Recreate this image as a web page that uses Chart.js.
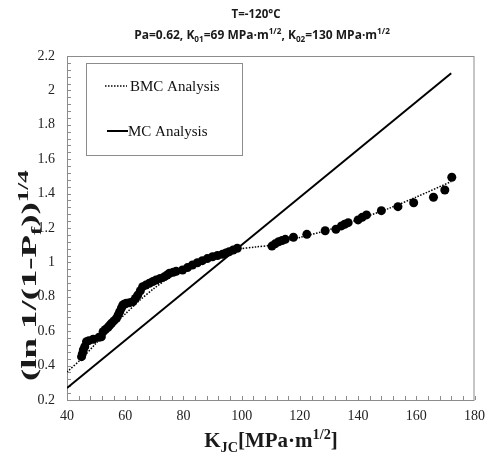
<!DOCTYPE html>
<html lang="en">
<head>
    <meta charset="UTF-8">
    <title>Master Curve vs BMC</title>
    <script src="https://cdn.jsdelivr.net/npm/chart.js"></script>
    <style>
        html, body { margin: 0; padding: 0; background: #fff; }
        #wrap { width: 493px; height: 456px; }
    </style>
</head>
<body>
    <div id="wrap"><canvas id="chart"></canvas></div>

    <script>
        // measured fracture toughness data
        const kjc = [45.0, 45.3, 45.6, 46.1, 46.7, 47.5, 49.0, 51.0, 51.8, 52.4, 53.2, 54.1, 54.7, 55.3, 56.1, 57.0,
            57.6, 58.1, 58.7, 59.2, 59.8, 60.4, 61.5, 62.6, 63.5, 64.3, 65.2, 66.0, 67.1, 68.3, 69.5, 70.6,
            72.0, 73.5, 74.4, 75.2, 76.5, 77.5, 79.7, 81.4, 83.1, 84.8, 86.5, 88.2, 90.0, 91.7, 93.4, 94.6,
            95.7, 97.1, 98.5, 110.4, 111.5, 112.7, 113.9, 115.0, 117.8, 122.4, 128.7, 132.4, 134.3, 135.4,
            136.6, 140.0, 141.4, 142.9, 148.0, 153.7, 159.1, 165.9, 169.8, 172.2];
        const prob = [0.452, 0.47, 0.491, 0.51, 0.539, 0.545, 0.553, 0.565, 0.568, 0.597, 0.61, 0.623, 0.635, 0.646, 0.66, 0.675,
            0.695, 0.713, 0.735, 0.752, 0.758, 0.762, 0.766, 0.771, 0.79, 0.81, 0.835, 0.859, 0.868, 0.879, 0.889, 0.898,
            0.907, 0.917, 0.927, 0.937, 0.943, 0.948, 0.956, 0.97, 0.985, 0.998, 1.01, 1.022, 1.033, 1.04, 1.047, 1.055,
            1.062, 1.072, 1.082, 1.095, 1.108, 1.12, 1.127, 1.134, 1.146, 1.163, 1.184, 1.193, 1.212, 1.222,
            1.231, 1.247, 1.262, 1.276, 1.301, 1.324, 1.347, 1.379, 1.421, 1.495];

        // BMC fitted curve (dotted)
        const bmcX = [40, 45, 50, 55, 60, 65, 70, 75, 80, 85, 90, 95, 98, 105, 110, 120, 130, 140, 150, 160, 172];
        const bmcY = [0.363, 0.44, 0.53, 0.62, 0.70, 0.78, 0.85, 0.91, 0.96, 1.0, 1.03, 1.055, 1.075, 1.09, 1.10, 1.145, 1.19, 1.25, 1.31, 1.38, 1.47];

        // MC straight line
        const mcX = [40, 172];
        const mcY = [0.27, 2.10];

        const xTicks = [40, 60, 80, 100, 120, 140, 160, 180];
        const yTicks = [0.2, 0.4, 0.6, 0.8, 1.0, 1.2, 1.4, 1.6, 1.8, 2.0, 2.2];

        const toXY = (xs, ys) => xs.map((x, i) => ({ x: x, y: ys[i] }));

        const SERIF = '"Liberation Serif", "Times New Roman", serif';
        const SANS = '"Open Sans", "Liberation Sans", sans-serif';

        // draw a run of text pieces with sub/superscripts
        function richWidth(ctx, parts, size, family, weight) {
            let w = 0;
            parts.forEach(p => {
                const s = p.s ? size * 0.68 : size;
                ctx.font = weight + ' ' + s + 'px ' + family;
                w += ctx.measureText(p.t).width;
            });
            return w;
        }
        function drawRich(ctx, parts, x, y, size, family, weight, align) {
            let cx = x;
            if (align === 'center') cx = x - richWidth(ctx, parts, size, family, weight) / 2;
            ctx.textBaseline = 'alphabetic';
            ctx.textAlign = 'left';
            parts.forEach(p => {
                const s = p.s ? size * 0.68 : size;
                ctx.font = weight + ' ' + s + 'px ' + family;
                let dy = 0;
                if (p.s === 'sub') dy = size * 0.22;
                if (p.s === 'sup') dy = -size * 0.38;
                ctx.fillText(p.t, cx, y + dy);
                cx += ctx.measureText(p.t).width;
            });
        }

        const decor = {
            id: 'decor',
            beforeDatasetsDraw(chart) {
                const { ctx, chartArea: a, scales: { x, y } } = chart;
                ctx.save();
                ctx.strokeStyle = '#8c8c8c';
                ctx.lineWidth = 1;
                ctx.strokeRect(a.left + 0.5, a.top + 0.5, a.right - a.left - 1, a.bottom - a.top);
                ctx.beginPath();
                for (let v = 40; v <= 180; v += 4) {
                    const px = Math.round(x.getPixelForValue(v)) + 0.5;
                    ctx.moveTo(px, a.bottom);
                    ctx.lineTo(px, a.bottom - 4);
                }
                for (let k = 0; k <= 50; k++) {
                    const py = Math.round(y.getPixelForValue(0.2 + k * 0.04)) + 0.5;
                    ctx.moveTo(a.left, py);
                    ctx.lineTo(a.left + 4, py);
                }
                ctx.stroke();
                ctx.restore();
            },
            afterDraw(chart) {
                const { ctx } = chart;
                ctx.save();
                ctx.fillStyle = '#1a1a1a';

                // title
                drawRich(ctx, [{ t: 'T=-120°C' }], 256, 18, 11.5, SANS, 'bold', 'center');
                drawRich(ctx, [
                    { t: 'Pa=0.62, K' }, { t: '01', s: 'sub' }, { t: '=69 MPa·m' }, { t: '1/2', s: 'sup' },
                    { t: ', K' }, { t: '02', s: 'sub' }, { t: '=130 MPa·m' }, { t: '1/2', s: 'sup' }
                ], 262, 39, 12, SANS, 'bold', 'center');

                // x axis title
                drawRich(ctx, [
                    { t: 'K' }, { t: 'JC', s: 'sub' }, { t: '[MPa·m' }, { t: '1/2', s: 'sup' }, { t: ']' }
                ], 271, 447, 21, SERIF, 'bold', 'center');

                // y axis title (rotated, stretched along its length like the original)
                ctx.save();
                ctx.translate(36, 381);
                ctx.rotate(-Math.PI / 2);
                ctx.scale(1.75, 1);
                drawRich(ctx, [
                    { t: '(ln 1/(1-P' }, { t: 'f', s: 'sub' }, { t: '))' }, { t: '1/4', s: 'sup' }
                ], 0, 0, 21, SERIF, 'bold', 'left');
                ctx.restore();

                // legend box
                ctx.fillStyle = '#fff';
                ctx.fillRect(86, 63, 156, 92);
                ctx.strokeStyle = '#8c8c8c';
                ctx.lineWidth = 1;
                ctx.strokeRect(86.5, 63.5, 156, 92);

                ctx.strokeStyle = '#000';
                ctx.lineWidth = 1.5;
                ctx.setLineDash([1.5, 1.5]);
                ctx.beginPath();
                ctx.moveTo(105, 86);
                ctx.lineTo(127, 86);
                ctx.stroke();
                ctx.setLineDash([]);
                ctx.lineWidth = 2;
                ctx.beginPath();
                ctx.moveTo(107, 131);
                ctx.lineTo(128, 131);
                ctx.stroke();

                ctx.fillStyle = '#111';
                drawRich(ctx, [{ t: 'BMC Analysis' }], 130, 91, 15, SERIF, 'normal', 'left');
                drawRich(ctx, [{ t: 'MC Analysis' }], 128, 136, 15, SERIF, 'normal', 'left');
                ctx.restore();
            }
        };

        new Chart(document.getElementById('chart'), {
            type: 'scatter',
            data: {
                datasets: [
                    {
                        label: 'Data',
                        data: toXY(kjc, prob),
                        backgroundColor: '#000',
                        borderWidth: 0,
                        pointRadius: 4.5
                    },
                    {
                        label: 'BMC Analysis',
                        data: toXY(bmcX, bmcY),
                        showLine: true,
                        borderColor: '#000',
                        borderWidth: 1.5,
                        borderDash: [1.5, 1.5],
                        pointRadius: 0,
                        tension: 0.3
                    },
                    {
                        label: 'MC Analysis',
                        data: toXY(mcX, mcY),
                        showLine: true,
                        borderColor: '#000',
                        borderWidth: 2,
                        pointRadius: 0
                    }
                ]
            },
            options: {
                responsive: true,
                maintainAspectRatio: false,
                animation: false,
                layout: { padding: { top: 56, right: 16, left: 0, bottom: 0 } },
                plugins: {
                    legend: { display: false },
                    tooltip: { enabled: false }
                },
                scales: {
                    x: {
                        type: 'linear',
                        min: 40,
                        max: 180,
                        afterFit: s => { s.height = 56; },
                        afterBuildTicks: s => { s.ticks = xTicks.map(v => ({ value: v })); },
                        grid: { display: false, drawTicks: false },
                        border: { display: false },
                        ticks: {
                            padding: 8,
                            color: '#222',
                            font: { family: SERIF, size: 14 }
                        }
                    },
                    y: {
                        type: 'linear',
                        min: 0.2,
                        max: 2.2,
                        afterFit: s => { s.width = 67; },
                        afterBuildTicks: s => { s.ticks = yTicks.map(v => ({ value: v })); },
                        grid: { display: false, drawTicks: false },
                        border: { display: false },
                        ticks: {
                            padding: 12,
                            color: '#222',
                            font: { family: SERIF, size: 14 },
                            callback: v => String(+(+v).toFixed(1))
                        }
                    }
                }
            },
            plugins: [decor]
        });
    </script>
</body>
</html>
